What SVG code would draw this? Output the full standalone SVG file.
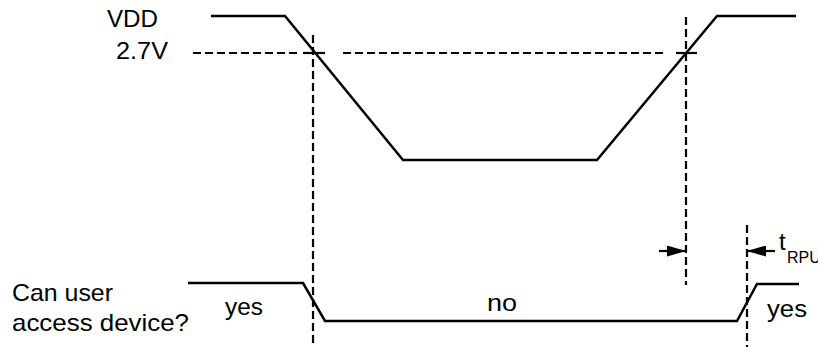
<svg xmlns="http://www.w3.org/2000/svg" width="818" height="347" viewBox="0 0 818 347">
  <style>
    .wave { fill: none; stroke: #000; stroke-width: 2.5; stroke-linejoin: miter; }
    .dash { fill: none; stroke: #000; stroke-width: 2.2; stroke-dasharray: 8 4; }
    .tick { fill: none; stroke: #000; stroke-width: 2.2; }
    .lbl { font-family: "Liberation Sans", Arial, sans-serif; font-size: 24px; fill: #000; }
    .sub { font-family: "Liberation Sans", Arial, sans-serif; font-size: 16px; fill: #000; }
  </style>
  <defs>
    <marker id="arrow" viewBox="0 0 10 10" refX="10" refY="5" markerWidth="19" markerHeight="11" markerUnits="userSpaceOnUse" orient="auto" preserveAspectRatio="none">
      <path d="M0,0 L10,5 L0,10 z" fill="#000"/>
    </marker>
  </defs>
  <rect width="818" height="347" fill="#fff"/>

  <g id="vdd-signal">
    <polyline class="wave" points="211,16 285,16 403,160 597,160 717,16 796,16"/>
    <text class="lbl" x="107" y="27" textLength="51" lengthAdjust="spacingAndGlyphs">VDD</text>
  </g>

  <g id="threshold-2v7">
    <text class="lbl" x="116" y="59" textLength="52" lengthAdjust="spacingAndGlyphs">2.7V</text>
  </g>

  <g id="access-signal">
    <polyline class="wave" points="188,283 303,283 325,321 737,321 757,284 799,284"/>
    <text class="lbl" x="12" y="301" textLength="101" lengthAdjust="spacingAndGlyphs">Can user</text>
    <text class="lbl" x="12" y="331" textLength="177" lengthAdjust="spacingAndGlyphs">access device?</text>
    <text class="lbl" x="225" y="315" textLength="38" lengthAdjust="spacingAndGlyphs">yes</text>
    <text class="lbl" x="487" y="311" textLength="30" lengthAdjust="spacingAndGlyphs">no</text>
    <text class="lbl" x="767" y="317" textLength="40" lengthAdjust="spacingAndGlyphs">yes</text>
  </g>

  <g id="trpu-label">
    <text class="lbl" x="779" y="250">t</text>
    <text class="sub" x="787" y="263">RPU</text>
  </g>

  <g id="connectors">
    <line class="dash" x1="193" y1="53" x2="300" y2="53"/>
    <line class="tick" x1="303" y1="53" x2="325" y2="53"/>
    <line class="dash" x1="343" y1="53" x2="667" y2="53"/>
    <line class="tick" x1="676" y1="53" x2="697" y2="53"/>
    <line class="dash" x1="313" y1="35" x2="313" y2="347"/>
    <line class="dash" x1="686" y1="17" x2="686" y2="285"/>
    <line class="dash" x1="747" y1="225" x2="747" y2="347"/>
    <line class="tick" x1="659" y1="251" x2="686" y2="251" marker-end="url(#arrow)"/>
    <line class="tick" x1="775" y1="251" x2="747" y2="251" marker-end="url(#arrow)"/>
  </g>
</svg>
